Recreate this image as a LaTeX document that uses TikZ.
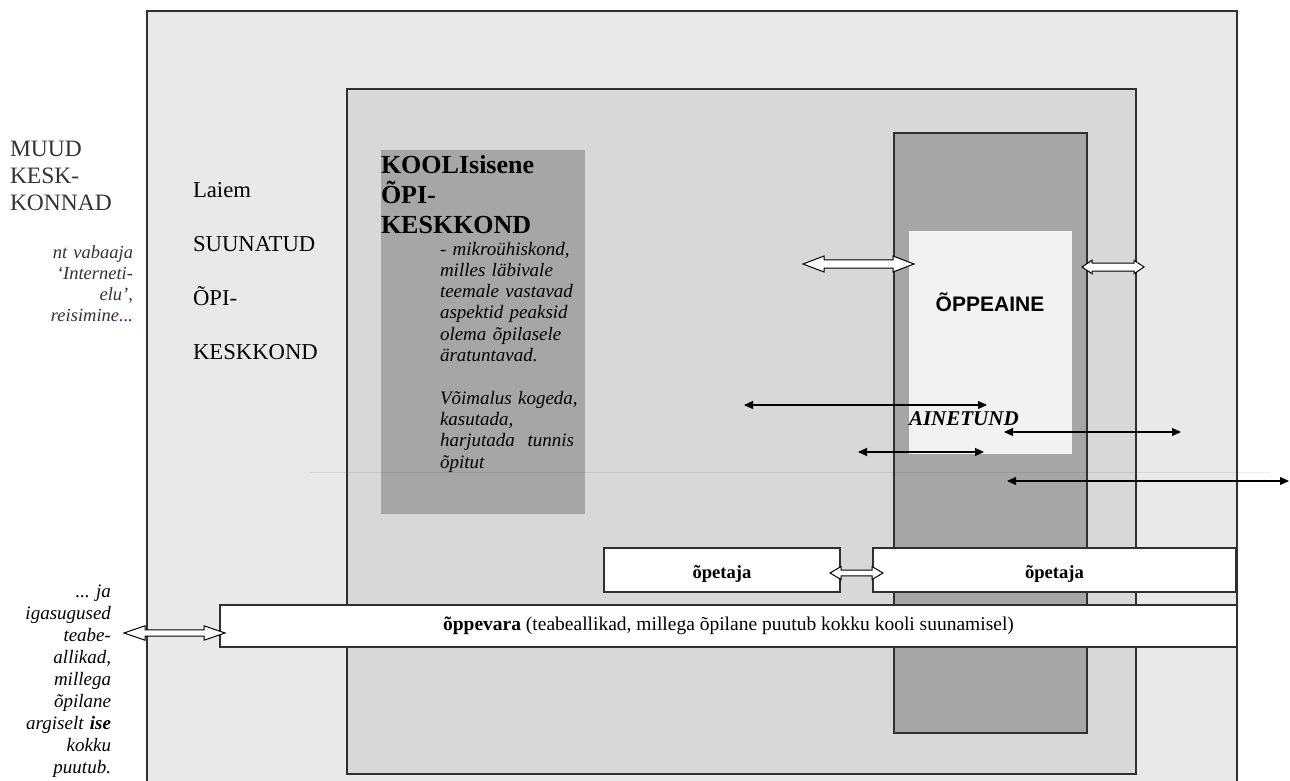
\documentclass[tikz,border=0pt]{standalone}
\usepackage{fontspec}
\setmainfont{Liberation Serif}
\newfontfamily\arialf{Liberation Sans}
\usetikzlibrary{arrows.meta,calc}
\definecolor{outerc}{HTML}{E9E9E9}
\definecolor{midc}{HTML}{D8D8D8}
\definecolor{darkc}{HTML}{A6A6A6}
\definecolor{whitec}{HTML}{F2F2F2}
\definecolor{linec}{HTML}{303030}
\definecolor{dotc}{HTML}{800080}
\definecolor{greytext}{HTML}{333333}
\newcommand{\hollowarr}[5]{\draw[hollow] (#1) -- ++(#5,-#4) -- ++(0,#4-#3) -- ($(#2)+(-#5,-#3)$) -- ++(0,#3-#4) -- (#2) -- ++(-#5,#4) -- ++(0,#3-#4) -- ($(#1)+(#5,#3)$) -- ++(0,#4-#3) -- cycle;}
\begin{document}
\frenchspacing
\begin{tikzpicture}[x=1pt,y=-1pt,
  box/.style={draw=linec, line width=1.2pt, anchor=north west, inner sep=0pt, outer sep=0pt},
  plainbox/.style={anchor=north west, inner sep=0pt, outer sep=0pt},
  txt/.style={inner sep=0pt, outer sep=0pt},
  thinarrow/.style={line width=1.1pt, {Triangle[length=9pt,width=8pt]}-{Triangle[length=9pt,width=8pt]}},
  hollow/.style={draw=black, line width=1pt, fill=white, line join=miter}]
\useasboundingbox (0,0) rectangle (1290,781);
% boxes
\node[box, fill=outerc, minimum width=1090pt, minimum height=780pt] (outer) at (147,11) {};
\node[box, fill=midc, minimum width=789pt, minimum height=685pt] (middle) at (347,89) {};
\node[box, fill=darkc, minimum width=193pt, minimum height=600pt] (dark) at (894,133) {};
\node[plainbox, fill=whitec, minimum width=163pt, minimum height=223pt] (aine) at (909,231) {};
\node[plainbox, fill=darkc, minimum width=204pt, minimum height=364pt] (kooli) at (381,150) {};
% faint line
\coordinate (fl1) at (310,472);
\coordinate (fl2) at (1270,472);
\draw[black, opacity=0.07, line width=1pt] (fl1) -- (fl2);
% teacher and material boxes
\node[box, fill=white, minimum width=236pt, minimum height=44pt, text height=16pt, text depth=0pt, font=\bfseries\fontsize{18.6}{22}\selectfont] (opet1) at (604,548) {õpetaja};
\node[box, fill=white, minimum width=363pt, minimum height=44pt, text height=16pt, text depth=0pt, font=\bfseries\fontsize{18.6}{22}\selectfont] (opet2) at (873,548) {õpetaja};
\node[box, fill=white, minimum width=1017pt, minimum height=42pt, font=\fontsize{19.5}{23}\selectfont] (vara) at (220,605) {\textbf{õppevara} (teabeallikad, millega õpilane puutub kokku kooli suunamisel)};
% texts
\node[txt, anchor=base west, text width=135pt, align=left, text=greytext, font=\fontsize{23.5}{27}\selectfont] (muud) at (10,157) {MUUD\\KESK-\\KONNAD};
\node[txt, anchor=base east, text width=130pt, align=right, text=greytext, font=\itshape\fontsize{18.5}{21.3}\selectfont] (nt) at (133,258) {nt vabaaja\\‘Interneti-\\elu’,\\reisimine\textcolor{dotc}{...}};
\node[txt, anchor=base west, text width=145pt, align=left, font=\fontsize{22.7}{54.3}\selectfont] (laiem) at (193,197) {Laiem\\SUUNATUD\\ÕPI-\\KESKKOND};
\node[txt, anchor=base west, text width=204pt, align=left, font=\bfseries\fontsize{26}{30}\selectfont] (kooltitle) at (381,173) {KOOLIsisene\\ÕPI-\\KESKKOND};
\node[txt, anchor=base west, text width=150pt, align=left, font=\itshape\fontsize{19}{21.3}\selectfont] (koolitext) at (440,255) {- mikroühiskond,\\milles läbivale\\teemale vastavad\\aspektid peaksid\\olema õpilasele\\äratuntavad.\\[21.3pt]Võimalus kogeda,\\kasutada,\\harjutada\ \ tunnis\\õpitut};
\node[txt, anchor=base, font=\arialf\bfseries\fontsize{21}{25}\selectfont] (oppeaine) at (990,311) {ÕPPEAINE};
\node[txt, anchor=base west, font=\bfseries\itshape\fontsize{21}{25}\selectfont] (ainetund) at (909,425) {AINETUND};
\node[txt, anchor=base east, text width=110pt, align=right, font=\itshape\fontsize{19}{22}\selectfont] (igas) at (111,597) {... ja\\igasugused\\teabe-\\allikad,\\millega\\õpilane\\argiselt \textbf{ise}\\kokku\\puutub.};
% hollow arrows
\coordinate (h1a) at (803,264); \coordinate (h1b) at (914,264);
\coordinate (h2a) at (1082,267); \coordinate (h2b) at (1144,267);
\coordinate (h3a) at (830,573); \coordinate (h3b) at (883,573);
\coordinate (h4a) at (124,633); \coordinate (h4b) at (225,633);
\hollowarr{h1a}{h1b}{4.2}{8}{21}
\hollowarr{h2a}{h2b}{4}{6.8}{10}
\hollowarr{h3a}{h3b}{2.8}{6.5}{11}
\hollowarr{h4a}{h4b}{3.2}{7.2}{21}
% thin arrows
\coordinate (t1a) at (744,405); \coordinate (t1b) at (987,405);
\coordinate (t2a) at (1004,432); \coordinate (t2b) at (1181,432);
\coordinate (t3a) at (858,452); \coordinate (t3b) at (984,452);
\coordinate (t4a) at (1007,481); \coordinate (t4b) at (1289,481);
\draw[thinarrow] (t1a) -- (t1b);
\draw[thinarrow] (t2a) -- (t2b);
\draw[thinarrow] (t3a) -- (t3b);
\draw[thinarrow] (t4a) -- (t4b);
\end{tikzpicture}
\end{document}
